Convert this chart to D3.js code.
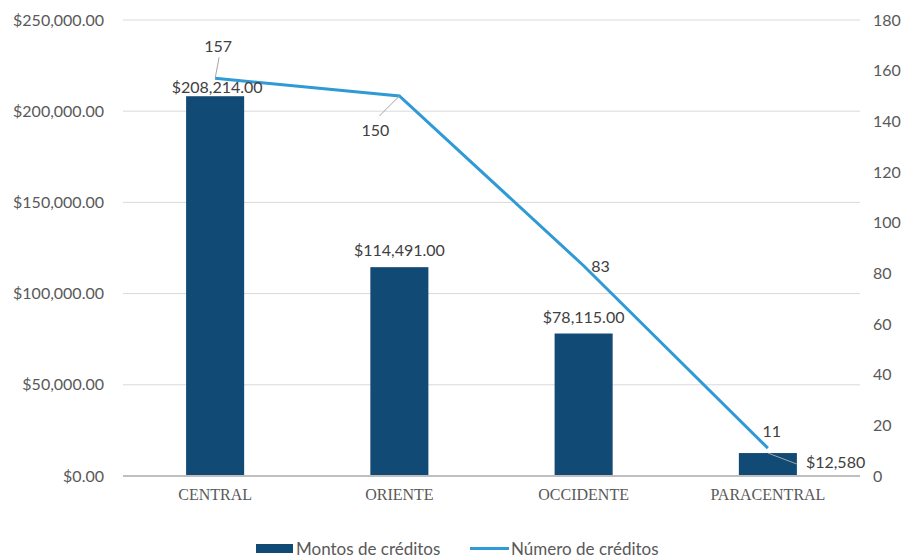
<!DOCTYPE html>
<html><head><meta charset="utf-8">
<script src="https://cdn.jsdelivr.net/npm/d3@7"></script>
<style>body{margin:0;background:#fff}svg{display:block}</style>
</head><body>
<svg id="c" width="902" height="558"></svg>
<script>
const categories = ["CENTRAL","ORIENTE","OCCIDENTE","PARACENTRAL"];
const montos = [208214, 114491, 78115, 12580];
const montoLabels = ["$208,214.00","$114,491.00","$78,115.00","$12,580"];
const numeros = [157, 150, 83, 11];
const leftTicks = [0, 50000, 100000, 150000, 200000, 250000];
const rightTicks = [0, 20, 40, 60, 80, 100, 120, 140, 160, 180];
const seriesNames = ["Montos de créditos", "Número de créditos"];

const svg = d3.select("#c");
const L = 123, R = 860, T = 20, B = 476;
const font = "Lato, 'Open Sans', sans-serif";
const barColor = "#114a74", lineColor = "#2f9ad5";
const fs = 16;

const x = d3.scaleBand().domain(categories).range([L, R]).paddingInner(0.685).paddingOuter(0.3425);
const yL = d3.scaleLinear().domain([0, 250000]).range([B, T]);
const yR = d3.scaleLinear().domain([0, 180]).range([B, T]);

// gridlines
svg.append("g").selectAll("line").data(leftTicks.slice(1)).join("line")
  .attr("x1", L).attr("x2", R).attr("y1", d => yL(d)).attr("y2", d => yL(d))
  .attr("stroke", "#d9d9d9").attr("stroke-width", 1);

// left axis
const fmt = d => "$" + d3.format(",.2f")(d);
const gl = svg.append("g").attr("transform", `translate(${L},0)`)
  .call(d3.axisLeft(yL).tickValues(leftTicks).tickFormat(fmt).tickSize(0).tickPadding(19));
gl.select(".domain").remove();
gl.selectAll("text").attr("font-family", font).attr("font-size", fs).attr("fill", "#595959");

// right axis
const gr = svg.append("g").attr("transform", `translate(${R},0)`)
  .call(d3.axisRight(yR).tickValues(rightTicks).tickSize(0).tickPadding(13));
gr.select(".domain").remove();
gr.selectAll("text").attr("font-family", font).attr("font-size", fs).attr("fill", "#595959");

// bars
svg.append("g").selectAll("rect").data(montos).join("rect")
  .attr("x", (d, i) => x(categories[i])).attr("width", x.bandwidth())
  .attr("y", d => yL(d)).attr("height", d => B - yL(d)).attr("fill", barColor);

// baseline
svg.append("line").attr("x1", L).attr("x2", R).attr("y1", B).attr("y2", B)
  .attr("stroke", "#bfbfbf").attr("stroke-width", 2);

// category axis
const gx = svg.append("g").attr("transform", `translate(0,${B})`)
  .call(d3.axisBottom(x).tickSize(0).tickPadding(13));
gx.select(".domain").remove();
gx.selectAll("text").attr("font-family", "'Liberation Serif', 'DejaVu Serif', serif")
  .attr("font-size", 16).attr("fill", "#595959");

// line
const cx = i => x(categories[i]) + x.bandwidth() / 2;
svg.append("path").datum(numeros)
  .attr("d", d3.line().x((d, i) => cx(i)).y(d => yR(d)))
  .attr("fill", "none").attr("stroke", lineColor).attr("stroke-width", 3);

// bar labels
const barLabelPos = [
  {dx: 2, dy: -3, anchor: "middle"},
  {dx: 0, dy: -11, anchor: "middle"},
  {dx: 0, dy: -11, anchor: "middle"},
  {dx: 38, dy: 15, anchor: "start"}
];
svg.append("g").selectAll("text").data(montos).join("text")
  .attr("x", (d, i) => cx(i) + barLabelPos[i].dx)
  .attr("y", d => yL(d))
  .attr("dy", (d, i) => barLabelPos[i].dy)
  .attr("text-anchor", (d, i) => barLabelPos[i].anchor)
  .attr("font-family", font).attr("font-size", fs).attr("fill", "#404040")
  .text((d, i) => montoLabels[i]);

// line labels
const lineLabelPos = [
  {dx: 3, dy: -26},
  {dx: -24, dy: 40},
  {dx: 17, dy: 6},
  {dx: 4, dy: -11}
];
svg.append("g").selectAll("text").data(numeros).join("text")
  .attr("x", (d, i) => cx(i) + lineLabelPos[i].dx)
  .attr("y", d => yR(d) + 0)
  .attr("dy", (d, i) => lineLabelPos[i].dy)
  .attr("text-anchor", "middle")
  .attr("font-family", font).attr("font-size", fs).attr("fill", "#404040")
  .text(d => d);

// leader lines
const leaders = [
  [cx(0), yR(numeros[0]), cx(0) + 4, yR(numeros[0]) - 21],
  [cx(1), yR(numeros[1]), cx(1) - 20, yR(numeros[1]) + 20],
  [cx(3), yL(montos[3]), cx(3) + 29, yL(montos[3]) + 11]
];
svg.append("g").selectAll("line").data(leaders).join("line")
  .attr("x1", d => d[0]).attr("y1", d => d[1]).attr("x2", d => d[2]).attr("y2", d => d[3])
  .attr("stroke", "#a6a6a6").attr("stroke-width", 1);

// legend
const lg = svg.append("g");
lg.append("rect").attr("x", 256).attr("y", 544).attr("width", 37).attr("height", 9).attr("fill", barColor);
lg.append("text").attr("x", 296).attr("y", 555).attr("font-family", font).attr("font-size", 17)
  .attr("fill", "#595959").text(seriesNames[0]);
lg.append("line").attr("x1", 470).attr("x2", 509).attr("y1", 548.5).attr("y2", 548.5)
  .attr("stroke", lineColor).attr("stroke-width", 3);
lg.append("text").attr("x", 511).attr("y", 555).attr("font-family", font).attr("font-size", 17)
  .attr("fill", "#595959").text(seriesNames[1]);
</script>
</body></html>
